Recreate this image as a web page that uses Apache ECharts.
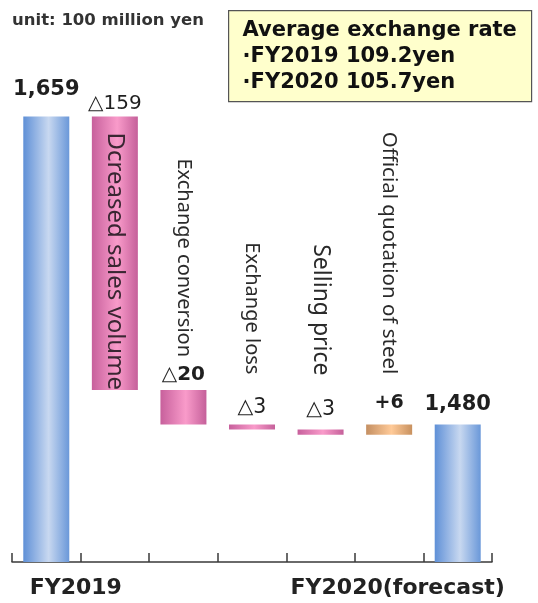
<!DOCTYPE html>
<html>
<head>
<meta charset="utf-8">
<script src="https://cdn.jsdelivr.net/npm/echarts@6/dist/echarts.min.js"></script>
<style>
  html, body { margin: 0; padding: 0; background: #ffffff; }
  #chart { width: 538px; height: 603px; }
</style>
</head>
<body>
<div id="chart"></div>
<script>
// Operating-income bridge, FY2019 -> FY2020 (unit: 100 million yen)
const categories = ['FY2019', 'Dcreased sales volume', 'Exchange conversion', 'Exchange loss', 'Selling price', 'Official quotation of steel', 'FY2020(forecast)'];
const axisLabels = ['FY2019', '', '', '', '', '', 'FY2020(forecast)'];
const openingTotal = 1659;
const changes = [-159, -20, -3, -3, 6];
const closingTotal = 1480;
const unitText = 'unit: 100 million yen';
const rateTitle = 'Average exchange rate';
const rateLines = ['\u00B7FY2019 109.2yen', '\u00B7FY2020 105.7yen'];

// Build floating segments: hidden base + visible segment
const baseVals = [0];
const sizeVals = [openingTotal];
const kinds = ['total'];
const labelTexts = [openingTotal.toLocaleString('en-US')];
let running = openingTotal;
changes.forEach(function (c) {
  if (c < 0) {
    baseVals.push(running + c);
    sizeVals.push(-c);
    kinds.push('down');
    labelTexts.push('\u25B3' + (-c));
  } else {
    baseVals.push(running);
    sizeVals.push(c);
    kinds.push('up');
    labelTexts.push('+' + c);
  }
  running += c;
});
baseVals.push(0);
sizeVals.push(closingTotal);
kinds.push('total');
labelTexts.push(closingTotal.toLocaleString('en-US'));

function hGrad(edgeL, mid, edgeR) {
  return new echarts.graphic.LinearGradient(0, 0, 1, 0, [
    { offset: 0, color: edgeL },
    { offset: 0.55, color: mid },
    { offset: 1, color: edgeR }
  ]);
}
const fills = {
  total: hGrad('#5F90D7', '#C8D8F0', '#6A98D9'),
  down: hGrad('#C7609C', '#F99BCA', '#C5609A'),
  up: hGrad('#C48F62', '#FFCA98', '#C8915F')
};

// value-label look per bar
const boldLabel = [true, false, true, false, false, true, true];
const labelSize = [21, 20, 20, 20.5, 20.5, 19, 21];
const labelGap = [16, 3, 5, 6, 9, 12, 9];

const visibleData = sizeVals.map(function (v, i) {
  return {
    value: v,
    itemStyle: { color: fills[kinds[i]] },
    label: {
      show: true,
      position: 'top',
      distance: labelGap[i],
      formatter: labelTexts[i],
      fontFamily: 'DejaVu Sans',
      fontWeight: boldLabel[i] ? 'bold' : 'normal',
      fontSize: labelSize[i],
      color: '#1f1f1f'
    }
  };
});

// vertical item names, anchored at the top of each change segment
const nameSize = [0, 24, 20, 20, 23, 20.5, 0];
const nameGap = [0, -16, 33, 50, 54, 50, 0];
const nameData = [];
for (let i = 1; i <= changes.length; i++) {
  nameData.push([i, baseVals[i] + sizeVals[i]]);
}

const chart = echarts.init(document.getElementById('chart'), null, { renderer: 'canvas' });
chart.setOption({
  animation: false,
  backgroundColor: '#ffffff',
  grid: { left: 12, right: 46, top: 46, bottom: 41, containLabel: false },
  xAxis: {
    type: 'category',
    data: categories,
    axisLine: { show: true, lineStyle: { color: '#3a3a3a', width: 1.5 } },
    axisTick: { show: true, inside: true, length: 9, lineStyle: { color: '#3a3a3a', width: 1.5 } },
    axisLabel: {
      interval: 0,
      margin: 15,
      formatter: function (v, idx) {
        if (idx === 0) return '{a|' + axisLabels[idx] + '}';
        if (idx === categories.length - 1) return '{b|' + axisLabels[idx] + '}';
        return '';
      },
      rich: {
        a: { fontFamily: 'DejaVu Sans', fontWeight: 'bold', fontSize: 22, color: '#222', padding: [0, 0, 0, 59] },
        b: { fontFamily: 'DejaVu Sans', fontWeight: 'bold', fontSize: 22, color: '#222', padding: [0, 120, 0, 0] }
      }
    }
  },
  yAxis: {
    type: 'value',
    min: 1400,
    max: 1700,
    show: false,
    splitLine: { show: false }
  },
  series: [
    {
      type: 'bar',
      stack: 'bridge',
      barWidth: 46,
      clip: true,
      silent: true,
      itemStyle: { color: 'transparent' },
      data: baseVals
    },
    {
      type: 'bar',
      stack: 'bridge',
      barWidth: 46,
      clip: true,
      data: visibleData
    },
    {
      type: 'custom',
      coordinateSystem: 'cartesian2d',
      encode: { x: 0, y: 1 },
      data: nameData,
      z: 5,
      renderItem: function (params, api) {
        const idx = api.value(0);
        const pt = api.coord([idx, api.value(1)]);
        const inside = nameGap[idx] < 0;
        return {
          type: 'text',
          x: pt[0],
          y: pt[1] - nameGap[idx],
          rotation: -Math.PI / 2,
          style: {
            text: categories[idx],
            fontFamily: 'Noto Sans',
            fontSize: nameSize[idx],
            fill: inside ? '#3a2632' : '#2a2a2a',
            textAlign: inside ? 'left' : 'right',
            textVerticalAlign: 'middle'
          }
        };
      }
    }
  ],
  graphic: [
    {
      type: 'text',
      left: 12,
      top: 12,
      style: { text: unitText, fontFamily: 'DejaVu Sans', fontWeight: 'bold', fontSize: 16.5, fill: '#333' }
    },
    {
      type: 'group',
      left: 228,
      top: 10,
      children: [
        {
          type: 'rect',
          shape: { x: 0, y: 0, width: 303, height: 91 },
          style: { fill: '#FFFFCC', stroke: '#555', lineWidth: 1.2 }
        },
        {
          type: 'text',
          x: 14,
          y: 7,
          style: {
            text: [rateTitle].concat(rateLines).join('\n'),
            fontFamily: 'DejaVu Sans',
            fontWeight: 'bold',
            fontSize: 21,
            lineHeight: 26,
            fill: '#111'
          }
        }
      ]
    }
  ]
});
</script>
</body>
</html>
